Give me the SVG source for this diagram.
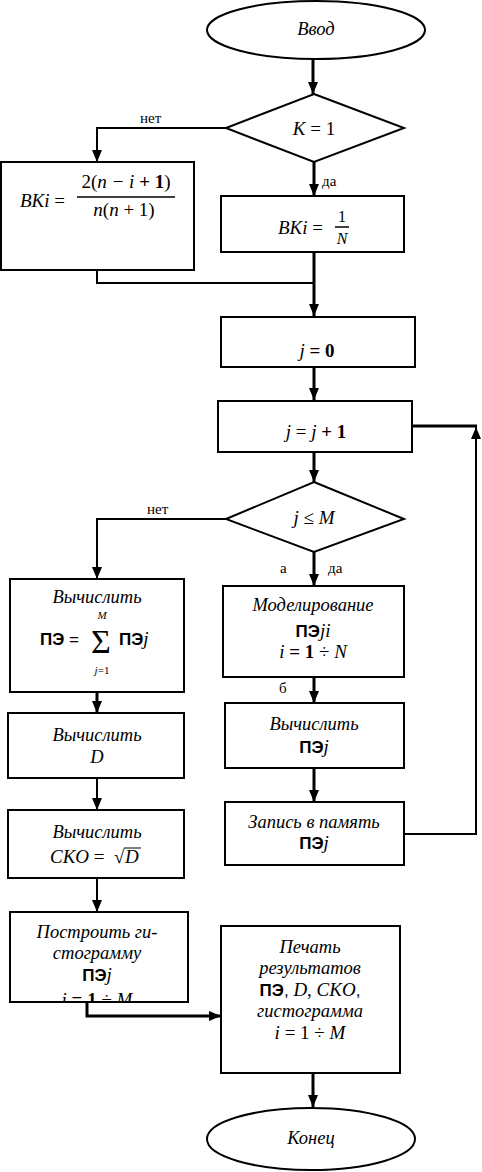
<svg xmlns="http://www.w3.org/2000/svg" width="482" height="1172" viewBox="0 0 482 1172">
<style>
.box{fill:#fff;stroke:#000;stroke-width:2}
.c{fill:none;stroke:#000;stroke-width:3}
.c2{fill:none;stroke:#000;stroke-width:2}
.t{font-family:"Liberation Serif",serif;font-style:italic;font-size:18.5px;text-anchor:middle;fill:#000}
.m{font-family:"Liberation Serif",serif;font-style:italic;font-size:19px;fill:#000}
.n{font-family:"Liberation Serif",serif;font-size:19px;fill:#000}
.b{font-family:"Liberation Sans",sans-serif;font-weight:bold;font-size:17px;fill:#000}
.lbl{font-family:"Liberation Serif",serif;font-size:15px;fill:#000}
</style>
<defs>
<marker id="ah" viewBox="0 0 12 10" refX="12" refY="5" markerWidth="12" markerHeight="10" markerUnits="userSpaceOnUse" orient="auto">
<path d="M0,0 L12,5 L0,10 z" fill="#000"/>
</marker>
<clipPath id="clipG"><rect x="11" y="913" width="177" height="88"/></clipPath>
</defs>

<g id="connectors">
<line class="c" x1="313" y1="60" x2="313" y2="94" marker-end="url(#ah)"/>
<polyline class="c2" points="226,128 97,128 97,162" marker-end="url(#ah)"/>
<line class="c" x1="314" y1="162" x2="314" y2="196" marker-end="url(#ah)"/>
<polyline class="c2" points="97,270 97,283 314,283"/>
<line class="c" x1="314" y1="252" x2="314" y2="316" marker-end="url(#ah)"/>
<line class="c" x1="314" y1="367" x2="314" y2="400" marker-end="url(#ah)"/>
<line class="c" x1="314" y1="452" x2="314" y2="482" marker-end="url(#ah)"/>
<polyline class="c2" points="226,519 97,519 97,579" marker-end="url(#ah)"/>
<line class="c" x1="314" y1="552" x2="314" y2="586" marker-end="url(#ah)"/>
<line class="c" x1="314" y1="677" x2="314" y2="703" marker-end="url(#ah)"/>
<line class="c" x1="314" y1="768" x2="314" y2="802" marker-end="url(#ah)"/>
<polyline class="c2" points="404,834 476,834 476,427" marker-end="url(#ah)"/>
<line class="c" x1="413" y1="426" x2="477" y2="426"/>
<line class="c" x1="97" y1="692" x2="97" y2="713" marker-end="url(#ah)"/>
<line class="c2" x1="97" y1="778" x2="97" y2="810" marker-end="url(#ah)"/>
<line class="c2" x1="97" y1="878" x2="97" y2="912" marker-end="url(#ah)"/>
<polyline class="c" points="87,1002 87,1016 221,1016" marker-end="url(#ah)"/>
<line class="c" x1="313" y1="1073" x2="313" y2="1107" marker-end="url(#ah)"/>
<text class="lbl" x="140" y="123">нет</text>
<text class="lbl" x="322" y="186">да</text>
<text class="lbl" x="147" y="514">нет</text>
<text class="lbl" x="280" y="573">а</text>
<text class="lbl" x="328" y="573">да</text>
<text class="lbl" x="279" y="693">б</text>
</g>

<g id="start">
<ellipse class="box" cx="316" cy="30" rx="109" ry="29"/>
<text class="t" x="316" y="35">Ввод</text>
</g>

<g id="cond1">
<polygon class="box" points="314,94 404,128 314,162 226,128"/>
<text class="m" x="314" y="135" text-anchor="middle">K <tspan font-style="normal">= 1</tspan></text>
</g>

<g id="bki-left">
<rect class="box" x="1" y="162" width="193" height="108"/>
<text class="m" x="20" y="207">BKi <tspan font-style="normal">=</tspan></text>
<text class="m" x="126" y="188" text-anchor="middle"><tspan font-style="normal">2(</tspan>n − i <tspan font-style="normal" font-weight="bold">+ 1</tspan><tspan font-style="normal">)</tspan></text>
<line x1="77" y1="197" x2="175" y2="197" stroke="#000" stroke-width="1.5"/>
<text class="m" x="124" y="216" text-anchor="middle">n<tspan font-style="normal">(</tspan>n <tspan font-style="normal">+ 1)</tspan></text>
</g>

<g id="bki-right">
<rect class="box" x="221" y="196" width="183" height="56"/>
<text class="m" x="278" y="234">BKi <tspan font-style="normal">=</tspan></text>
<text class="n" x="342" y="222" text-anchor="middle" style="font-size:16px">1</text>
<line x1="335" y1="227" x2="349" y2="227" stroke="#000" stroke-width="1.5"/>
<text class="m" x="342" y="244" text-anchor="middle" style="font-size:16px">N</text>
</g>

<g id="j0">
<rect class="box" x="221" y="317" width="194" height="50"/>
<text class="m" x="317" y="357" text-anchor="middle">j <tspan font-style="normal" font-weight="bold">= 0</tspan></text>
</g>

<g id="jinc">
<rect class="box" x="218" y="401" width="194" height="51"/>
<text class="m" x="316" y="438" text-anchor="middle">j <tspan font-style="normal">=</tspan> j <tspan font-style="normal" font-weight="bold">+ 1</tspan></text>
</g>

<g id="cond2">
<polygon class="box" points="314,482 404,519 314,552 226,519"/>
<text class="m" x="314" y="524" text-anchor="middle">j <tspan font-style="normal">≤</tspan> M</text>
</g>

<g id="calc-sum">
<rect class="box" x="10" y="579" width="174" height="113"/>
<text class="t" x="97" y="603">Вычислить</text>
<text class="b" x="40" y="645">ПЭ <tspan font-weight="normal">=</tspan></text>
<text class="n" x="101" y="653" text-anchor="middle" style="font-size:34px">Σ</text>
<text class="m" x="102" y="619" text-anchor="middle" style="font-size:11px">M</text>
<text class="m" x="102" y="674" text-anchor="middle" style="font-size:11px">j<tspan font-style="normal">=1</tspan></text>
<text class="b" x="119" y="645">ПЭ<tspan class="m" font-weight="normal">j</tspan></text>
</g>

<g id="model">
<rect class="box" x="223" y="586" width="181" height="91"/>
<text class="t" x="313" y="611">Моделирование</text>
<text class="b" x="313" y="637" text-anchor="middle">ПЭ<tspan class="m" font-weight="normal">ji</tspan></text>
<text class="m" x="313" y="658" text-anchor="middle">i <tspan font-style="normal" font-weight="bold">= 1</tspan> <tspan font-style="normal">÷</tspan> N</text>
</g>

<g id="calc-pej">
<rect class="box" x="225" y="703" width="179" height="65"/>
<text class="t" x="314" y="730">Вычислить</text>
<text class="b" x="314" y="753" text-anchor="middle">ПЭ<tspan class="m" font-weight="normal">j</tspan></text>
</g>

<g id="store">
<rect class="box" x="225" y="802" width="179" height="63"/>
<text class="t" x="314" y="828">Запись в память</text>
<text class="b" x="314" y="849" text-anchor="middle">ПЭ<tspan class="m" font-weight="normal">j</tspan></text>
</g>

<g id="calc-d">
<rect class="box" x="8" y="713" width="176" height="65"/>
<text class="t" x="97" y="741">Вычислить</text>
<text class="t" x="97" y="763">D</text>
</g>

<g id="calc-sko">
<rect class="box" x="8" y="810" width="176" height="68"/>
<text class="t" x="97" y="838">Вычислить</text>
<text class="m" x="50" y="863">CKO <tspan font-style="normal">=</tspan></text>
<text class="n" x="114" y="863">√</text>
<line x1="124" y1="848" x2="141" y2="848" stroke="#000" stroke-width="1"/>
<text class="m" x="125" y="863">D</text>
</g>

<g id="hist">
<rect class="box" x="10" y="912" width="178" height="90"/>
<text class="t" x="97" y="938">Построить ги-</text>
<text class="t" x="97" y="959">стограмму</text>
<text class="b" x="97" y="981" text-anchor="middle">ПЭ<tspan class="m" font-weight="normal">j</tspan></text>
<text class="m" x="97" y="1006" text-anchor="middle" clip-path="url(#clipG)">i <tspan font-style="normal" font-weight="bold">= 1</tspan> <tspan font-style="normal">÷</tspan> M</text>
</g>

<g id="print">
<rect class="box" x="221" y="926" width="179" height="147"/>
<text class="t" x="310" y="953">Печать</text>
<text class="t" x="310" y="974">результатов</text>
<text class="b" x="310" y="996" text-anchor="middle">ПЭ<tspan font-weight="normal">,</tspan> <tspan class="m" font-weight="normal">D, CKO</tspan><tspan font-weight="normal">,</tspan></text>
<text class="t" x="310" y="1017">гистограмма</text>
<text class="m" x="310" y="1039" text-anchor="middle">i <tspan font-style="normal">= 1 ÷</tspan> M</text>
</g>

<g id="end">
<ellipse class="box" cx="311" cy="1139" rx="104" ry="31"/>
<text class="t" x="311" y="1144">Конец</text>
</g>
</svg>
